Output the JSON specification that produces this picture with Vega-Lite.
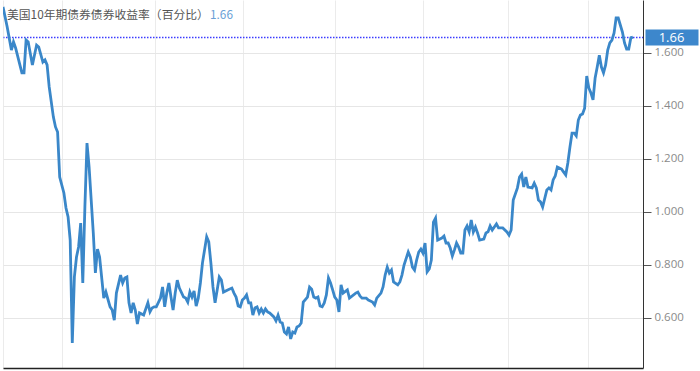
{
  "$schema": "https://vega.github.io/schema/vega-lite/v6.json",
  "width": 640,
  "height": 368,
  "autosize": {"type": "none"},
  "padding": {"left": 3, "top": 0, "right": 57, "bottom": 3},
  "background": "white",
  "config": {"view": {"stroke": null}},
  "resolve": {"axis": {"y": "independent"}},
  "layer": [
    {
      "data": {"values": [
        {"t":0,"v":1.774},{"t":2,"v":1.698},{"t":4,"v":1.611},{"t":5,"v":1.642},{"t":6,"v":1.619},{"t":9,"v":1.525},{"t":10,"v":1.525},{"t":11,"v":1.649},{"t":12,"v":1.642},{"t":14,"v":1.555},{"t":16,"v":1.630},{"t":17,"v":1.623},{"t":19,"v":1.566},{"t":20,"v":1.574},{"t":21,"v":1.555},{"t":22,"v":1.472},{"t":24,"v":1.358},{"t":25,"v":1.321},{"t":26,"v":1.302},{"t":27,"v":1.132},{"t":29,"v":1.072},{"t":30,"v":1.015},{"t":31,"v":0.981},{"t":32,"v":0.894},{"t":33,"v":0.506},{"t":34,"v":0.755},{"t":35,"v":0.830},{"t":36,"v":0.868},{"t":37,"v":0.958},{"t":38,"v":0.732},{"t":39,"v":1.019},{"t":40,"v":1.260},{"t":41,"v":1.170},{"t":43,"v":0.921},{"t":44,"v":0.770},{"t":45,"v":0.860},{"t":46,"v":0.830},{"t":48,"v":0.675},{"t":49,"v":0.698},{"t":51,"v":0.642},{"t":52,"v":0.630},{"t":53,"v":0.592},{"t":54,"v":0.694},{"t":56,"v":0.762},{"t":57,"v":0.732},{"t":58,"v":0.751},{"t":59,"v":0.755},{"t":60,"v":0.657},{"t":61,"v":0.619},{"t":62,"v":0.657},{"t":63,"v":0.630},{"t":64,"v":0.577},{"t":65,"v":0.619},{"t":67,"v":0.611},{"t":69,"v":0.657},{"t":70,"v":0.623},{"t":71,"v":0.638},{"t":72,"v":0.642},{"t":73,"v":0.642},{"t":75,"v":0.675},{"t":76,"v":0.717},{"t":77,"v":0.642},{"t":78,"v":0.694},{"t":79,"v":0.732},{"t":80,"v":0.679},{"t":81,"v":0.630},{"t":82,"v":0.694},{"t":83,"v":0.743},{"t":84,"v":0.713},{"t":86,"v":0.679},{"t":87,"v":0.675},{"t":88,"v":0.660},{"t":89,"v":0.698},{"t":90,"v":0.679},{"t":91,"v":0.702},{"t":92,"v":0.645},{"t":93,"v":0.675},{"t":94,"v":0.732},{"t":95,"v":0.808},{"t":97,"v":0.906},{"t":98,"v":0.887},{"t":99,"v":0.808},{"t":100,"v":0.717},{"t":101,"v":0.657},{"t":102,"v":0.706},{"t":103,"v":0.755},{"t":104,"v":0.743},{"t":105,"v":0.698},{"t":107,"v":0.706},{"t":109,"v":0.713},{"t":110,"v":0.694},{"t":111,"v":0.679},{"t":112,"v":0.645},{"t":113,"v":0.642},{"t":114,"v":0.668},{"t":115,"v":0.675},{"t":116,"v":0.687},{"t":117,"v":0.657},{"t":118,"v":0.657},{"t":119,"v":0.611},{"t":120,"v":0.638},{"t":121,"v":0.642},{"t":122,"v":0.619},{"t":123,"v":0.634},{"t":124,"v":0.619},{"t":125,"v":0.634},{"t":126,"v":0.623},{"t":127,"v":0.619},{"t":129,"v":0.604},{"t":130,"v":0.589},{"t":131,"v":0.611},{"t":132,"v":0.585},{"t":133,"v":0.581},{"t":134,"v":0.547},{"t":135,"v":0.540},{"t":136,"v":0.566},{"t":137,"v":0.521},{"t":138,"v":0.547},{"t":139,"v":0.543},{"t":140,"v":0.566},{"t":141,"v":0.570},{"t":142,"v":0.581},{"t":143,"v":0.660},{"t":145,"v":0.679},{"t":146,"v":0.717},{"t":147,"v":0.709},{"t":148,"v":0.679},{"t":149,"v":0.675},{"t":150,"v":0.679},{"t":151,"v":0.645},{"t":152,"v":0.642},{"t":153,"v":0.657},{"t":154,"v":0.687},{"t":155,"v":0.751},{"t":156,"v":0.732},{"t":157,"v":0.706},{"t":158,"v":0.679},{"t":159,"v":0.668},{"t":160,"v":0.623},{"t":161,"v":0.725},{"t":162,"v":0.694},{"t":164,"v":0.706},{"t":165,"v":0.675},{"t":168,"v":0.694},{"t":169,"v":0.698},{"t":170,"v":0.683},{"t":171,"v":0.675},{"t":173,"v":0.675},{"t":174,"v":0.668},{"t":176,"v":0.660},{"t":177,"v":0.649},{"t":178,"v":0.675},{"t":180,"v":0.694},{"t":181,"v":0.717},{"t":182,"v":0.762},{"t":183,"v":0.792},{"t":184,"v":0.770},{"t":185,"v":0.781},{"t":186,"v":0.736},{"t":188,"v":0.725},{"t":189,"v":0.736},{"t":190,"v":0.762},{"t":191,"v":0.800},{"t":193,"v":0.849},{"t":194,"v":0.830},{"t":195,"v":0.792},{"t":196,"v":0.781},{"t":197,"v":0.819},{"t":198,"v":0.849},{"t":199,"v":0.860},{"t":200,"v":0.845},{"t":201,"v":0.883},{"t":202,"v":0.774},{"t":203,"v":0.785},{"t":204,"v":0.819},{"t":205,"v":0.962},{"t":206,"v":0.977},{"t":207,"v":0.894},{"t":209,"v":0.902},{"t":210,"v":0.909},{"t":211,"v":0.883},{"t":212,"v":0.883},{"t":213,"v":0.864},{"t":214,"v":0.834},{"t":215,"v":0.857},{"t":216,"v":0.883},{"t":217,"v":0.868},{"t":218,"v":0.845},{"t":219,"v":0.845},{"t":220,"v":0.932},{"t":221,"v":0.947},{"t":222,"v":0.925},{"t":223,"v":0.970},{"t":224,"v":0.925},{"t":225,"v":0.943},{"t":226,"v":0.921},{"t":227,"v":0.894},{"t":229,"v":0.898},{"t":230,"v":0.921},{"t":231,"v":0.925},{"t":232,"v":0.947},{"t":233,"v":0.932},{"t":235,"v":0.955},{"t":236,"v":0.940},{"t":237,"v":0.940},{"t":238,"v":0.940},{"t":240,"v":0.925},{"t":241,"v":0.913},{"t":242,"v":0.932},{"t":243,"v":1.045},{"t":245,"v":1.091},{"t":246,"v":1.132},{"t":247,"v":1.143},{"t":248,"v":1.094},{"t":249,"v":1.132},{"t":250,"v":1.094},{"t":252,"v":1.091},{"t":253,"v":1.109},{"t":254,"v":1.091},{"t":255,"v":1.045},{"t":256,"v":1.038},{"t":257,"v":1.019},{"t":259,"v":1.083},{"t":260,"v":1.091},{"t":261,"v":1.083},{"t":262,"v":1.121},{"t":263,"v":1.136},{"t":264,"v":1.170},{"t":266,"v":1.162},{"t":268,"v":1.140},{"t":269,"v":1.185},{"t":270,"v":1.245},{"t":271,"v":1.298},{"t":272,"v":1.298},{"t":273,"v":1.287},{"t":274,"v":1.347},{"t":275,"v":1.366},{"t":276,"v":1.370},{"t":277,"v":1.392},{"t":278,"v":1.513},{"t":279,"v":1.468},{"t":280,"v":1.449},{"t":281,"v":1.423},{"t":282,"v":1.506},{"t":283,"v":1.547},{"t":284,"v":1.592},{"t":285,"v":1.547},{"t":286,"v":1.525},{"t":287,"v":1.555},{"t":288,"v":1.611},{"t":289,"v":1.638},{"t":290,"v":1.649},{"t":291,"v":1.675},{"t":292,"v":1.732},{"t":293,"v":1.732},{"t":295,"v":1.679},{"t":296,"v":1.638},{"t":297,"v":1.615},{"t":298,"v":1.615},{"t":299,"v":1.657},{"t":300,"v":1.660}
      ]},
      "mark": {"type": "line", "color": "#3a87c9", "strokeWidth": 2.8, "clip": true},
      "encoding": {
        "x": {"field": "t", "type": "quantitative",
          "scale": {"domain": [0, 304.8], "nice": false, "zero": false},
          "axis": {"title": null, "labels": false, "ticks": false, "values": [0, 28.1, 72.4, 114.3, 158.1, 200, 240.5, 278.6],
            "grid": true, "gridColor": "#ebebeb", "domain": true, "domainColor": "#222", "domainWidth": 1.5}},
        "y": {"field": "v", "type": "quantitative",
          "scale": {"domain": [0.4113, 1.8], "nice": false, "zero": false},
          "axis": {"orient": "right", "title": null, "values": [0.6, 0.8, 1.0, 1.2, 1.4, 1.6], "format": ".3f",
            "grid": true, "gridColor": "#e6e6e6", "domainColor": "#333", "tickColor": "#555", "tickSize": 8,
            "labelColor": "#8a8a8a", "labelFontSize": 11.5, "labelFont": "Open Sans", "labelPadding": 3}}
      }
    },
    {
      "data": {"values": [
        {"t": 1.9, "v": 1.743, "text": "美国10年期债券债券收益率（百分比）", "part": "name"},
        {"t": 98.6, "v": 1.743, "text": "1.66", "part": "last"}
      ]},
      "mark": {"type": "text", "align": "left", "baseline": "middle", "font": "Noto Sans CJK SC", "fontSize": 11.8},
      "encoding": {
        "x": {"field": "t", "type": "quantitative"},
        "y": {"field": "v", "type": "quantitative",
          "axis": {"orient": "right", "title": null, "values": [1.66], "format": ".2f", "offset": 2,
            "grid": true, "gridColor": "#3c3cff", "gridDash": [1.5, 1.5], "gridWidth": 1.3, "gridOpacity": 1,
            "domain": false, "tickColor": "#3d87cc", "tickSize": 53, "tickWidth": 16,
            "labelColor": "white", "labelFontSize": 13, "labelFont": "Open Sans", "labelAlign": "center", "labelPadding": -27, "labelBaseline": "middle"}},
        "text": {"field": "text"},
        "color": {"field": "part", "type": "nominal", "legend": null,
          "scale": {"domain": ["name", "last"], "range": ["#555555", "#6aa0d6"]}}
      }
    }
  ]
}
